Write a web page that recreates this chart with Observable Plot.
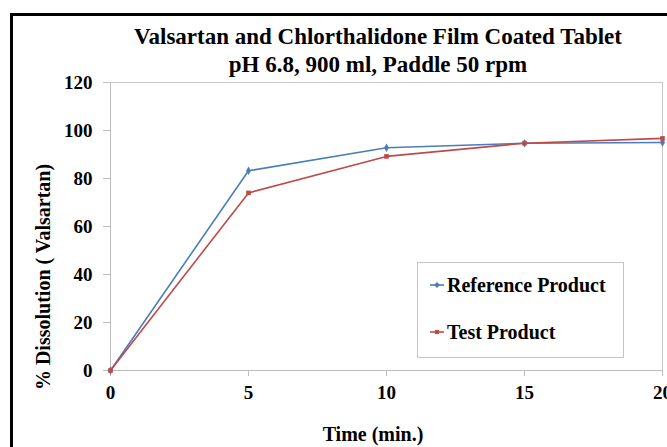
<!DOCTYPE html>
<html>
<head>
<meta charset="utf-8">
<script src="https://cdn.jsdelivr.net/npm/d3@7"></script>
<script src="https://cdn.jsdelivr.net/npm/@observablehq/plot@0.6"></script>
<style>
  html, body { margin: 0; padding: 0; background: white; overflow: hidden; }
  #wrap { position: relative; width: 667px; height: 447px; overflow: hidden; background: white;
          font-family: "Liberation Serif", "Times New Roman", serif; font-weight: bold; color: black; }
  #wrap svg { position: absolute; left: 0; top: 0; }
  .abs { position: absolute; white-space: nowrap; }
  .title { left: 0; width: 756px; text-align: center; font-size: 23px; line-height: 28px; }
  #border { position: absolute; left: 10px; top: 13px; width: 800px; height: 600px;
            border-left: 3px solid black; border-top: 3px solid black; }
  #legend { position: absolute; left: 417px; top: 262px; width: 205px; height: 94px;
            border: 1px solid #c4c4c4; background: white; }
  .lg { position: absolute; left: 12px; font-size: 20px; line-height: 24px; display: flex; align-items: center; }
  .lg svg { position: static !important; margin-right: 2px; }
</style>
</head>
<body>
<div id="wrap">
  <div id="border"></div>
  <div id="chart"></div>
  <div class="abs title" style="top:23px">Valsartan and Chlorthalidone Film Coated Tablet</div>
  <div class="abs title" style="top:51px">pH 6.8, 900 ml, Paddle 50 rpm</div>
  <div class="abs" id="ylab" style="left:43px; top:277px; font-size:20px; transform: translate(-50%,-50%) rotate(-90deg);">% Dissolution ( Valsartan)</div>
  <div class="abs" id="xlab" style="left:373px; top:434px; font-size:20px; transform: translate(-50%,-50%);">Time (min.)</div>
  <div id="legend"></div>
</div>
<script>
const times = [0, 5, 10, 15, 20];
const referenceValues = [0, 83.2, 92.8, 94.7, 95.0];
const testValues = [0, 74.0, 89.2, 94.7, 96.7];
const seriesNames = ["Reference Product", "Test Product"];
const seriesColors = ["#4a7ebb", "#be4b48"];
const seriesSymbols = ["diamond", "square"];
const xTicks = [0, 5, 10, 15, 20];
const yTicks = [0, 20, 40, 60, 80, 100, 120];

const refData = times.map((t, i) => ({time: t, value: referenceValues[i], series: seriesNames[0]}));
const testData = times.map((t, i) => ({time: t, value: testValues[i], series: seriesNames[1]}));

const chart = Plot.plot({
  width: 667,
  height: 447,
  marginTop: 82,
  marginBottom: 77,
  marginLeft: 110,
  marginRight: 5,
  style: {fontFamily: "Liberation Serif, Times New Roman, serif", fontSize: "19px", fontWeight: "bold", color: "black", background: "transparent", overflow: "hidden"},
  x: {domain: [0, 20], ticks: xTicks},
  y: {domain: [0, 120], ticks: yTicks},
  marks: [
    Plot.frame({stroke: "#c8c8c8"}),
    Plot.axisY({ticks: yTicks, tickSize: 7, tickPadding: 11, label: null, stroke: "#bdbdbd", fill: "black", fontSize: 19}),
    Plot.axisX({ticks: xTicks, tickSize: 6, tickPadding: 9, label: null, stroke: "#bdbdbd", fill: "black", fontSize: 19}),
    Plot.ruleY([0], {stroke: "#bdbdbd"}),
    Plot.ruleX([0], {stroke: "#bdbdbd"}),
    Plot.line(refData, {x: "time", y: "value", stroke: seriesColors[0], strokeWidth: 1.6}),
    Plot.dot(refData, {x: "time", y: "value", symbol: seriesSymbols[0], r: 2.6, fill: seriesColors[0], stroke: "none"}),
    Plot.line(testData, {x: "time", y: "value", stroke: seriesColors[1], strokeWidth: 1.6}),
    Plot.dot(testData, {x: "time", y: "value", symbol: seriesSymbols[1], r: 2.6, fill: seriesColors[1], stroke: "none"})
  ]
});
document.getElementById("chart").appendChild(chart);

// Legend
const legend = document.getElementById("legend");
const tops = [10, 57];
seriesNames.forEach((name, i) => {
  const row = document.createElement("div");
  row.className = "lg";
  row.style.top = tops[i] + "px";
  const sw = d3.create("svg").attr("width", 15).attr("height", 10);
  sw.append("line").attr("x1", 0).attr("x2", 14).attr("y1", 5).attr("y2", 5)
    .attr("stroke", seriesColors[i]).attr("stroke-width", 1.6);
  sw.append("path").attr("transform", "translate(7,5)")
    .attr("d", d3.symbol(i === 0 ? d3.symbolDiamond2 : d3.symbolSquare2, 22)())
    .attr("fill", seriesColors[i]);
  row.appendChild(sw.node());
  const span = document.createElement("span");
  span.textContent = name;
  row.appendChild(span);
  legend.appendChild(row);
});
</script>
</body>
</html>
